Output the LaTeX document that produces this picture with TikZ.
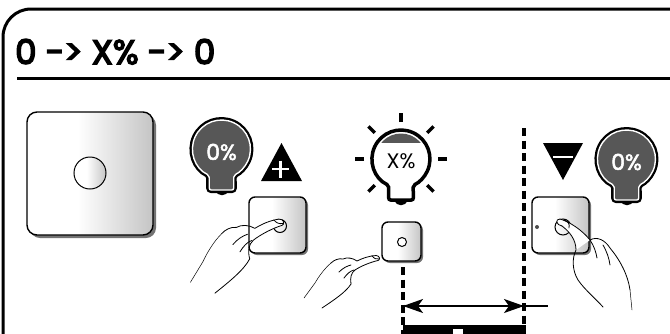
\documentclass[tikz,border=0pt]{standalone}
\usepackage{fontspec}
\setmainfont{Poppins}
\newfontfamily\titlefont[FakeBold=4.5]{Poppins}
\newfontfamily\labelfont[FakeBold=2.5]{Poppins}
\usetikzlibrary{arrows.meta}
\definecolor{bulbgray}{HTML}{575757}
\pgfdeclarehorizontalshading{keyshade}{100bp}{color(0bp)=(white); color(45bp)=(white); color(100bp)=(black!42)}

% switch plate: corners (#1,#2)-(#3,#4), corner radius #5, shadow offset #6
\newcommand\keyplate[6]{%
  \fill[black!55, rounded corners=#5pt] (#1+#6,#2+#6) rectangle (#3+#6,#4+#6);
  \shade[shading=keyshade, rounded corners=#5pt] (#1,#2) rectangle (#3,#4);
  \draw[line width=1.4, rounded corners=#5pt] (#1,#2) rectangle (#3,#4);
}

\tikzset{
  dashline/.style={line width=3.5, dash pattern=on 8pt off 4.5pt},
  handline/.style={line width=0.8, line cap=round, line join=round},
  pics/darkbulb/.style={code={
    \fill (-6,41) .. controls (-6,47.5) and (6,47.5) .. (6,41) -- cycle;
    \draw[line width=6, rounded corners=2pt] (-12.3,41) -- (-12.3,26.3)
      arc[start angle=115, end angle=425, radius=29] -- (12.3,41) -- cycle;
    \draw[line width=1.4, draw=white, fill=bulbgray, rounded corners=2pt] (-12.3,41) -- (-12.3,26.3)
      arc[start angle=115, end angle=425, radius=29] -- (12.3,41) -- cycle;
  }},
  pics/litbulb/.style={code={
    \fill (-6,41) .. controls (-6,47.5) and (6,47.5) .. (6,41) -- cycle;
    \fill[white] (-12.3,41) -- (-12.3,26.3)
      arc[start angle=115, end angle=425, radius=29] -- (12.3,41) -- cycle;
    \begin{scope}
      \clip (0,0) circle (25.5);
      \fill[bulbgray] (-30,-30) rectangle (30,-16);
    \end{scope}
    \draw[line width=3.5, rounded corners=2pt] (-12.3,41) -- (-12.3,26.3)
      arc[start angle=115, end angle=425, radius=29] -- (12.3,41) -- cycle;
    \foreach \a in {0,45,135,180,225,270,315}
      \draw[line width=3.5] (\a:37) -- (\a:46);
  }},
  % hand pointing to the right, fingertip at the origin
  pics/pointer/.style={code={
    \fill[white] (-3,-2.5) .. controls (-10,-2) and (-16,0) .. (-22,3)
      -- (-24,12) .. controls (-18,8) and (-8,4) .. (-1,2.5)
      .. controls (1.5,2) and (1,-2.5) .. (-3,-2.5);
    \draw[handline] (-3,-2.5) .. controls (-10,-2) and (-16,0) .. (-22,3)
      .. controls (-26,0) and (-32,-1) .. (-36,1)
      .. controls (-40,0) and (-45,2) .. (-48,5);
    \draw[handline, line width=0.5] (-48,5) .. controls (-54,10) and (-60,18) .. (-64,25) -- (-75,40);
    \draw[handline] (-3,-2.5) .. controls (1,-2.5) and (1.5,2) .. (-1,2.5);
    \draw[handline] (-1,2.5) .. controls (-8,4) and (-18,8) .. (-24,12)
      .. controls (-28,15) and (-29,20) .. (-28,26);
    \draw[handline] (-28,26) .. controls (-33,34) and (-45,42) .. (-57,50);
    \draw[handline] (-40,14) .. controls (-36,10) and (-32,8) .. (-28,7);
    \draw[handline] (-35,20) .. controls (-32,16) and (-29,13) .. (-25,12);
    \draw[handline] (-7,-2.3) .. controls (-5,0.5) and (-3,1.5) .. (0,1);
  }}
}

\begin{document}
\begin{tikzpicture}[x=1pt, y=-1pt]
\useasboundingbox (0,0) rectangle (670,333);

% frame and title
\draw[line width=3] (3,345) -- (3,37) arc[start angle=180, end angle=270, radius=28] -- (680,9);
\node[anchor=base west, inner sep=0, font=\titlefont\fontsize{34}{34}\selectfont] (title) at (15,64) {0 -> X\% -> 0};
\draw[line width=3] (17,78.5) -- (680,78.5);

% large switch
\keyplate{27}{112}{153}{235}{10}{3}
\shade[shading=keyshade] (90,173) circle (16);
\draw[line width=1] (90,173) circle (16);

% step 1: press the key
\pic at (221.5,149) {darkbulb};
\node[text=white, font=\labelfont\fontsize{22}{22}\selectfont] (pct1) at (221.5,152) {0\%};
\fill (261,181) -- (302,181) -- (281.5,143) -- cycle;
\draw[white, line width=2.6] (272,169) -- (289,169) (280.5,160.5) -- (280.5,177.5);
\keyplate{249}{197}{306}{253}{6}{2}
\draw[line width=1] (280,226) circle (6.5);
\pic[rotate=5, scale=1.3] at (283,222) {pointer};

% step 2: release at X%
\pic at (401,159) {litbulb};
\node[font=\fontsize{21}{21}\selectfont] (pct2) at (401,161) {X\%};
\keyplate{382}{222}{421}{261}{6}{2}
\draw[line width=1, fill=white] (402,242) circle (4.5);
\pic at (379,258) {pointer};

% hold interval
\coordinate (aL) at (403,306);
\coordinate (aR) at (524,306);
\coordinate (aE) at (548,306);
\draw[dashline] (403,267) -- (403,340);
\draw[dashline] (524,128) -- (524,340);
\draw[line width=1.3, {Stealth[length=20pt, width=14pt, inset=5pt]}-{Stealth[length=20pt, width=14pt, inset=5pt]}] (aL) -- (aR);
\draw[line width=1.3] (aR) -- (aE);
\fill (403,325) rectangle (525.5,340);
\fill[white] (453,329) rectangle (463,340);

% step 3: press again to switch off
\fill (543,143) -- (583,143) -- (563,180) -- cycle;
\draw[white, line width=2.6] (553,157) -- (573,157);
\pic at (626.5,159) {darkbulb};
\node[text=white, font=\labelfont\fontsize{22}{22}\selectfont] (pct3) at (626.5,162) {0\%};
\keyplate{532}{197}{589}{253}{6}{2}
\fill[black!70] (537,227) circle (2);
\draw[line width=1] (563,227) circle (8);
\fill[white] (560,219) .. controls (570,222) and (582,230) .. (590,240) -- (576,250)
  .. controls (576,240) and (570,232) .. (562,226) .. controls (556,225) and (555,219) .. (560,219);
\draw[handline] (560,219) .. controls (570,222) and (582,230) .. (590,240)
  .. controls (597,236) and (605,240) .. (610,248)
  .. controls (620,260) and (628,275) .. (630,290);
\draw[handline, line width=0.5] (630,290) -- (632,310);
\draw[handline] (560,219) .. controls (555,219) and (556,225) .. (562,226);
\draw[handline] (562,226) .. controls (570,232) and (576,240) .. (576,250)
  .. controls (572,258) and (572,270) .. (578,280)
  .. controls (585,290) and (595,298) .. (603,307);
\draw[handline] (590,240) .. controls (594,246) and (596,252) .. (597,258);
\draw[handline] (603,245) .. controls (607,252) and (609,258) .. (610,265);
\draw[handline] (564,220) .. controls (568,221) and (570,224) .. (569,228);
\end{tikzpicture}
\end{document}
